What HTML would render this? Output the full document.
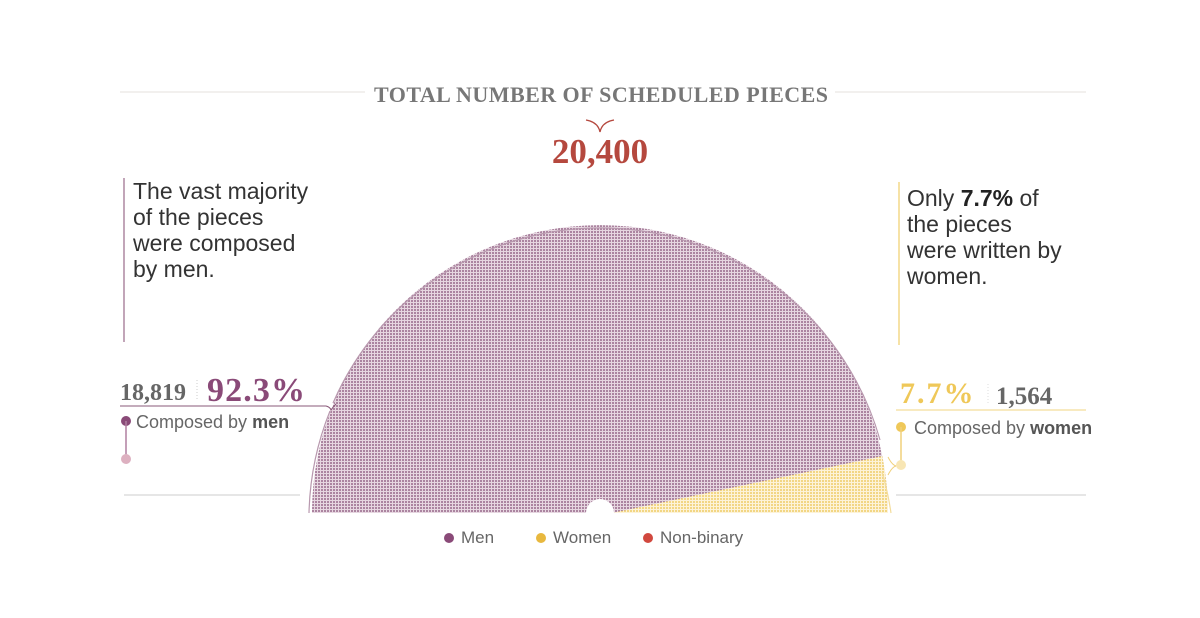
<!DOCTYPE html>
<html><head><meta charset="utf-8"><style>
body{margin:0;background:#fff;}
svg{display:block}
.s{font-family:"Liberation Serif",serif;font-weight:bold}
.a{font-family:"Liberation Sans",sans-serif}
</style></head><body>
<svg width="1200" height="618" viewBox="0 0 1200 618">
<defs>
<pattern id="pm" width="3" height="3" patternUnits="userSpaceOnUse"><rect width="3" height="3" fill="#e6d6e0"/><rect width="2" height="2" fill="#ab84a0"/></pattern>
<pattern id="pw" width="3" height="3" patternUnits="userSpaceOnUse"><rect width="3" height="3" fill="#fdf3d8"/><rect width="2" height="2" fill="#f2d684"/></pattern>
<clipPath id="c"><path d="M312,513 A288,288 0 0 1 888,513 Z"/></clipPath>
</defs>
<line x1="120" y1="92" x2="365" y2="92" stroke="#e4e0dc"/>
<line x1="835" y1="92" x2="1086" y2="92" stroke="#e4e0dc"/>
<text x="601" y="102" text-anchor="middle" class="s" font-size="22" fill="#777" textLength="454">TOTAL NUMBER OF SCHEDULED PIECES</text>
<path d="M586,120 Q598,122 600,132 Q602,122 614,120" fill="none" stroke="#b5483e" stroke-width="1.3"/>
<text x="600" y="163" text-anchor="middle" class="s" font-size="35" fill="#b5483e">20,400</text>

<line x1="124" y1="178" x2="124" y2="342" stroke="#9a6a8a" stroke-width="1.2"/>
<text class="a" font-size="23" fill="#333"><tspan x="133" y="199">The vast majority</tspan><tspan x="133" y="225">of the pieces</tspan><tspan x="133" y="251">were composed</tspan><tspan x="133" y="277">by men.</tspan></text>
<line x1="899" y1="182" x2="899" y2="345" stroke="#f0cf6c" stroke-width="1.2"/>
<text class="a" font-size="23" fill="#333"><tspan x="907" y="206">Only <tspan font-weight="bold" fill="#222">7.7%</tspan> of</tspan><tspan x="907" y="232">the pieces</tspan><tspan x="907" y="258">were written by</tspan><tspan x="907" y="284">women.</tspan></text>

<path d="M312,513 A288,288 0 0 1 888,513 Z" fill="url(#pm)"/>
<polygon points="612,513 892,454 892,515" fill="url(#pw)" clip-path="url(#c)"/>
<circle cx="600" cy="513" r="14" fill="#fff"/>
<path d="M309,513 A291,291 0 0 1 330,411" fill="none" stroke="#b898ae" stroke-width="1.2"/>
<path d="M333,403 A291,291 0 0 1 880,440" fill="none" stroke="#b898ae" stroke-width="1.2"/>
<path d="M882,472 A291,291 0 0 1 891,513" fill="none" stroke="#f3dc9c" stroke-width="1.2"/>

<text x="120" y="400" class="s" font-size="24" fill="#666">18,819</text>
<line x1="197" y1="380" x2="197" y2="400" stroke="#ccc" stroke-dasharray="1,2"/>
<text x="207" y="401" class="s" font-size="34" fill="#8a4a78" textLength="98">92.3%</text>
<path d="M120,406 L326,406 Q330,407 331,410 Q333,407 336,404" fill="none" stroke="#8a5a7a" stroke-width="1.1"/>
<circle cx="126" cy="421" r="5" fill="#8a4a78"/>
<line x1="126" y1="421" x2="126" y2="459" stroke="#b07fa0" stroke-width="1.5"/>
<circle cx="126" cy="459" r="5" fill="#ddb0c0"/>
<text x="136" y="428" class="a" font-size="18" fill="#666">Composed by <tspan font-weight="bold" fill="#555">men</tspan></text>
<line x1="124" y1="495" x2="300" y2="495" stroke="#ccc"/>

<text x="900" y="403" class="s" font-size="30" fill="#efc859" letter-spacing="2">7.7%</text>
<line x1="988" y1="384" x2="988" y2="404" stroke="#ddd" stroke-dasharray="1,2"/>
<text x="996" y="404" class="s" font-size="25" fill="#666">1,564</text>
<line x1="896" y1="410" x2="1086" y2="410" stroke="#f0d480" stroke-width="1.1"/>
<circle cx="901" cy="427" r="5" fill="#efc859"/>
<line x1="901" y1="427" x2="901" y2="465" stroke="#f0d07a" stroke-width="1.5"/>
<circle cx="901" cy="465" r="5" fill="#f8e6b4"/>
<path d="M888,457 Q892,465 896,466 Q892,467 888,475" fill="none" stroke="#f0d07a"/>
<text x="914" y="434" class="a" font-size="18" fill="#666">Composed by <tspan font-weight="bold" fill="#555">women</tspan></text>
<line x1="896" y1="495" x2="1086" y2="495" stroke="#ccc"/>

<circle cx="449" cy="538" r="5" fill="#8a4a78"/>
<text x="461" y="543" class="a" font-size="17" fill="#666">Men</text>
<circle cx="541" cy="538" r="5" fill="#e8b83e"/>
<text x="553" y="543" class="a" font-size="17" fill="#666">Women</text>
<circle cx="648" cy="538" r="5" fill="#d1483e"/>
<text x="660" y="543" class="a" font-size="17" fill="#666">Non-binary</text>
</svg>
</body></html>
